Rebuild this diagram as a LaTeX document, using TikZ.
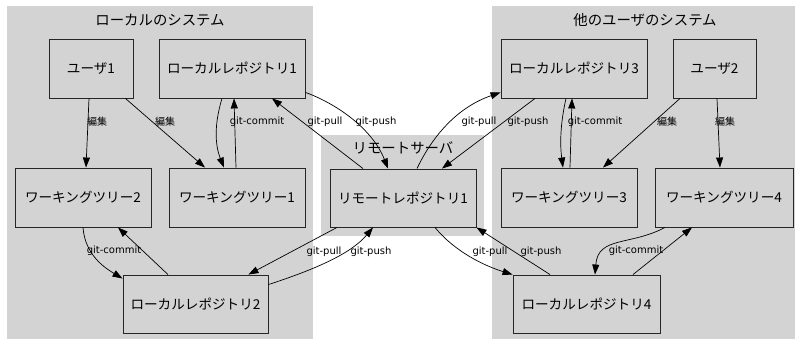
\documentclass[tikz,border=0pt]{standalone}
\usepackage{fontspec}
\setmainfont{DejaVu Sans}
\newfontfamily\jp{Noto Sans CJK JP}
\usetikzlibrary{arrows.meta,calc}
\definecolor{clustergray}{HTML}{D3D3D3}
\begin{document}
\begin{tikzpicture}[x=1pt,y=-1pt,
  box/.style={draw=black!85, line width=0.9pt, inner sep=0pt, minimum height=59pt, font=\jp\fontsize{13.6}{15}\selectfont},
  title/.style={inner sep=0pt, font=\jp\fontsize{14.4}{16}\selectfont},
  edge/.style={draw=black, line width=0.7pt, -{Triangle[length=10pt,width=7pt]}},
  lbl/.style={inner sep=0pt, font=\fontsize{10}{12}\selectfont},
  jlbl/.style={inner sep=0pt, font=\jp\fontsize{10}{12}\selectfont}]
\useasboundingbox (0,0) rectangle (795,339);
% clusters
\fill[clustergray] (7,6) rectangle (313,339);
\fill[clustergray] (321,135) rectangle (484,236);
\fill[clustergray] (492,6) rectangle (795,339);
\node[title] (t1) at (160,20) {ローカルのシステム};
\node[title] (t2) at (403,148) {リモートサーバ};
\node[title] (t3) at (645,20) {他のユーザのシステム};
% nodes
\node[box, minimum width=84pt] (u1) at (91,68.5) {ユーザ1};
\node[box, minimum width=146pt] (lr1) at (232,68.5) {ローカルレポジトリ1};
\node[box, minimum width=136pt] (wt2) at (83,197.5) {ワーキングツリー2};
\node[box, minimum width=136pt] (wt1) at (237,197.5) {ワーキングツリー1};
\node[box, minimum width=145pt, minimum height=58pt] (lr2) at (195.5,304) {ローカルレポジトリ2};
\node[box, minimum width=146pt, minimum height=58pt] (rr1) at (403,198) {リモートレポジトリ1};
\node[box, minimum width=146pt] (lr3) at (574,68.5) {ローカルレポジトリ3};
\node[box, minimum width=83pt] (u2) at (714.5,68.5) {ユーザ2};
\node[box, minimum width=136pt] (wt3) at (569,197.5) {ワーキングツリー3};
\node[box, minimum width=138pt] (wt4) at (724,197.5) {ワーキングツリー4};
\node[box, minimum width=147pt, minimum height=58pt] (lr4) at (586.5,304) {ローカルレポジトリ4};
% edges, left system
\draw[edge] ($(u1.south)+(-2,0)$) -- ($(wt2.north)+(3,0)$);
\draw[edge] ($(u1.south east)+(-8,0)$) -- ($(wt1.north)+(-32,0)$);
\draw[edge] ($(lr1.south)+(-10,0)$) .. controls (214,125) and (215,145) .. ($(wt1.north)+(-13,0)$);
\draw[edge] ($(wt1.north)+(-1,0)$) -- ($(lr1.south)+(2,0)$);
\draw[edge] ($(wt2.south)+(0,0)$) .. controls (85,255) and (105,268) .. ($(lr2.north west)+(0,4)$);
\draw[edge] ($(lr2.north)+(-27.5,0)$) -- ($(wt2.south)+(35,0)$);
% edges, remote
\draw[edge] ($(rr1.north)+(-40,0)$) -- ($(lr1.south)+(40,0)$);
\draw[edge] ($(lr1.south east)+(0,-6)$) .. controls (335,103) and (372,128) .. ($(rr1.north)+(-15,0)$);
\draw[edge] ($(rr1.north)+(14,0)$) .. controls (433,135) and (458,107) .. ($(lr3.south west)+(0,-6)$);
\draw[edge] ($(lr3.south)+(-39,0)$) -- ($(rr1.north)+(39,0)$);
\draw[edge] ($(rr1.south)+(-66,0)$) -- ($(lr2.north east)+(-20,0)$);
\draw[edge] ($(lr2.north east)+(0,10)$) .. controls (310,271) and (350,255) .. ($(rr1.south)+(-30,0)$);
\draw[edge] ($(rr1.south)+(32,0)$) .. controls (455,252) and (485,266) .. (lr4.north west);
\draw[edge] ($(lr4.north)+(-36.5,0)$) -- (rr1.south east);
% edges, other system
\draw[edge] ($(lr3.south)+(-8,0)$) .. controls (560,125) and (560,145) .. ($(wt3.north)+(-6,0)$);
\draw[edge] ($(wt3.north)+(1,0)$) -- ($(lr3.south)+(-2,0)$);
\draw[edge] ($(u2.south)+(-34.5,0)$) -- ($(wt3.north)+(34,0)$);
\draw[edge] ($(u2.south)+(2.5,0)$) -- ($(wt4.north)+(-4,0)$);
\draw[edge] ($(wt4.south)+(-59,0)$) .. controls (630,246) and (598,236) .. ($(lr4.north)+(8.5,0)$);
\draw[edge] ($(lr4.north)+(46.5,0)$) -- ($(wt4.south)+(-32,0)$);
% labels
\node[jlbl] (l1) at (97,122) {編集};
\node[jlbl] (l2) at (165,122) {編集};
\node[lbl] (l3) at (257,122) {git-commit};
\node[lbl] (l4) at (325,122) {git-pull};
\node[lbl] (l5) at (376,122) {git-push};
\node[lbl] (l6) at (479,122) {git-pull};
\node[lbl] (l7) at (528,122) {git-push};
\node[lbl] (l8) at (595,122) {git-commit};
\node[jlbl] (l9) at (667,122) {編集};
\node[jlbl] (l10) at (725,122) {編集};
\node[lbl] (l11) at (114,251) {git-commit};
\node[lbl] (l12) at (324,252) {git-pull};
\node[lbl] (l13) at (371,252) {git-push};
\node[lbl] (l14) at (490,252) {git-pull};
\node[lbl] (l15) at (541,252) {git-push};
\node[lbl] (l16) at (636,251) {git-commit};
\end{tikzpicture}
\end{document}
